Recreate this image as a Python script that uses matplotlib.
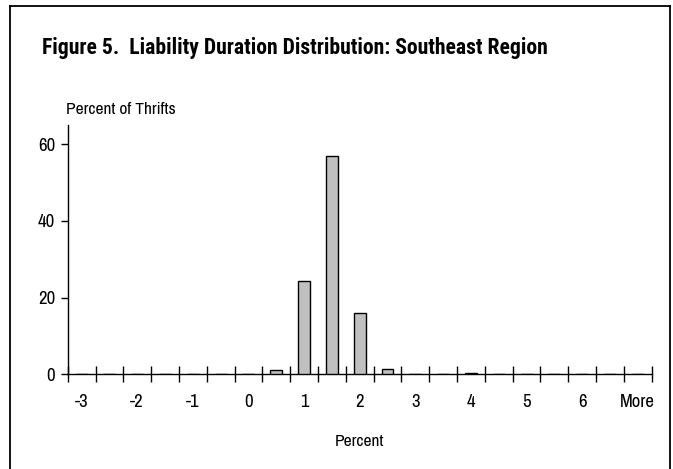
import matplotlib
matplotlib.use("Agg")
import matplotlib.pyplot as plt
from matplotlib.lines import Line2D
import numpy as np

plt.rcParams['font.family'] = ['Archivo Narrow', 'Liberation Sans', 'DejaVu Sans']

categories = ["-3", "-2.5", "-2", "-1.5", "-1", "-0.5", "0", "0.5", "1", "1.5",
              "2", "2.5", "3", "3.5", "4", "4.5", "5", "5.5", "6", "6.5", "More"]
values = [0, 0, 0, 0, 0, 0, 0, 1.0, 24.3, 56.8, 15.9, 1.3, 0, 0, 0.4, 0, 0, 0, 0, 0, 0]
shown_labels = ["-3", "-2", "-1", "0", "1", "2", "3", "4", "5", "6", "More"]

W, H = 673, 469
fig = plt.figure(figsize=(W / 100, H / 100), dpi=100)
ax = fig.add_axes([67.7 / W, 1 - 374.3 / H, (651.7 - 67.7) / W, (374.3 - 125) / H])

x = np.arange(len(categories))
ax.bar(x, values, width=0.43, color="#C0C0C0", edgecolor="black", linewidth=1.0, zorder=3)

ax.set_xlim(-0.5, len(categories) - 0.5)
ax.set_ylim(0, 65)

ax.set_yticks([0, 20, 40, 60])
ax.tick_params(axis="y", direction="out", length=5, width=1, labelsize=13.5, pad=4)

ax.set_xticks(np.arange(len(categories) + 1) - 0.5)
ax.set_xticklabels([])
ax.set_xticks([i for i, c in enumerate(categories) if c in shown_labels], minor=True)
ax.set_xticklabels(shown_labels, minor=True)
ax.tick_params(axis="x", which="major", direction="inout", length=12, width=1)
ax.tick_params(axis="x", which="minor", length=0, labelsize=13.5, pad=14)

for s in ["top", "right"]:
    ax.spines[s].set_visible(False)
ax.spines["left"].set_linewidth(1)
ax.spines["bottom"].set_linewidth(1)

fig.text(42 / W, 1 - 48 / H, "Figure 5.  Liability Duration Distribution: Southeast Region",
         fontsize=15.6, fontweight="bold", ha="left", va="center",
         family=['Roboto Condensed', 'Liberation Sans', 'DejaVu Sans'])
fig.text(66.5 / W, 1 - 110 / H, "Percent of Thrifts", fontsize=12.5, ha="left", va="center")
fig.text(359 / W, 1 - 441 / H, "Percent", fontsize=12.5, ha="center", va="center")

# outer frame (left, top, right)
fig.add_artist(Line2D([10 / W, 10 / W], [0, 1 - 6 / H], transform=fig.transFigure, color="black", lw=1.3))
fig.add_artist(Line2D([10 / W, 670 / W], [1 - 6 / H, 1 - 6 / H], transform=fig.transFigure, color="black", lw=1.3))
fig.add_artist(Line2D([670 / W, 670 / W], [0, 1 - 6 / H], transform=fig.transFigure, color="black", lw=1.3))

fig.savefig("out.png", dpi=100)
